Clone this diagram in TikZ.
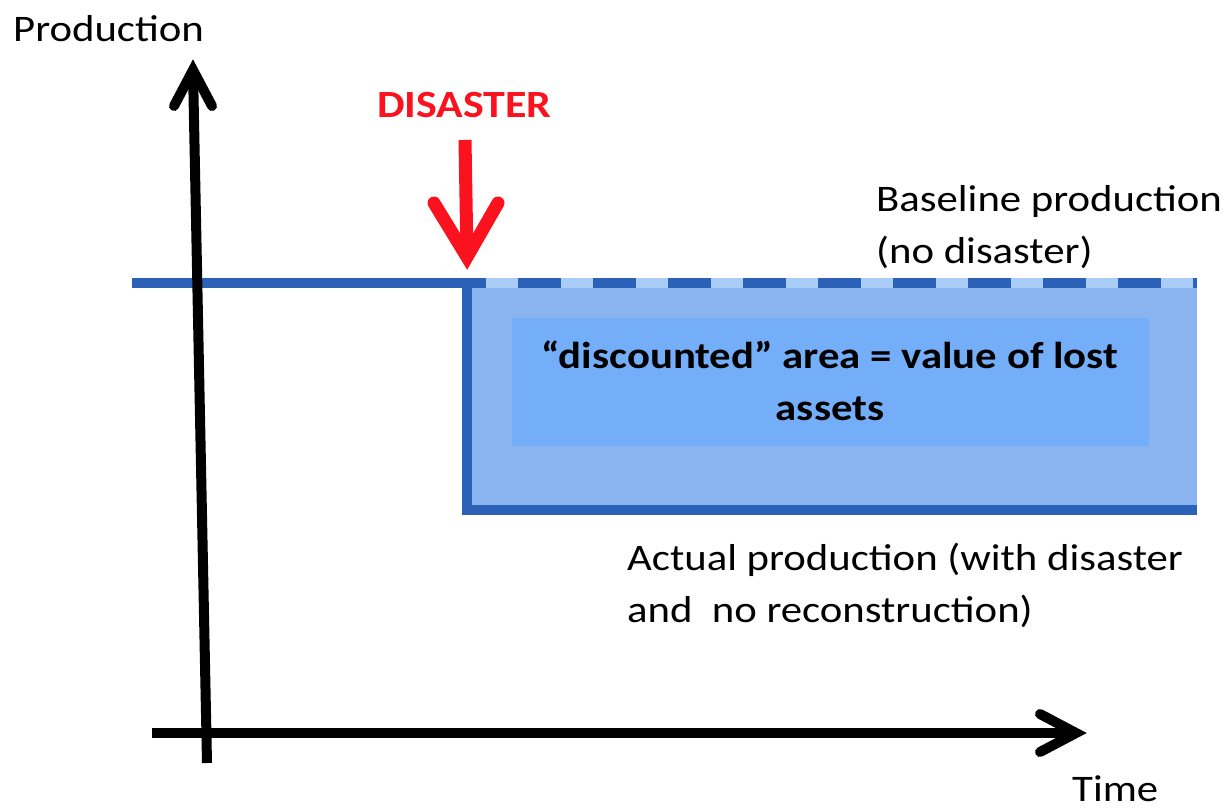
\documentclass[tikz,border=0pt]{standalone}
\usepackage{fontspec}
\setmainfont{Carlito}[FakeStretch=1.14]
\definecolor{darkblue}{RGB}{43,98,184}
\definecolor{midfill}{RGB}{138,180,239}
\definecolor{innerfill}{RGB}{117,174,248}
\definecolor{lightdash}{RGB}{169,205,247}
\definecolor{alarmred}{RGB}{250,18,30}
\tikzset{
  axisline/.style={line width=10pt, black},
  axisarm/.style={line width=10pt, black, line cap=round, line join=miter},
  blueline/.style={line width=10pt, darkblue},
  lbl/.style={inner sep=0pt, font=\fontsize{37.5}{51.5}\selectfont, align=left},
  boldlbl/.style={inner sep=0pt, font=\fontsize{37.5}{52}\selectfont\bfseries, align=center},
}
\begin{document}
\begin{tikzpicture}[x=1pt,y=-1pt]
\useasboundingbox (0,0) rectangle (1226,808);
% loss area
\fill[midfill] (467,283) rectangle (1197,510);
\fill[innerfill] (512,318) rectangle (1149,446);
\node[boldlbl, anchor=base] (area) at (830,420) {“discounted” area = value of lost\\assets};
\draw[blueline] (467,283) -- (467,510) -- (1197,510);
% baseline production
\coordinate (bstart) at (132,283);
\coordinate (drop) at (467,283);
\coordinate (bend) at (1197,283);
\draw[blueline] (bstart) -- (drop);
\draw[line width=10pt, lightdash] (drop) -- (bend);
\draw[blueline, dash pattern=on 43pt off 32pt, dash phase=24pt] (drop) -- (bend);
% axes
\coordinate (ybot) at (207,763);
\coordinate (ytop) at (193,70);
\coordinate (xleft) at (152,733);
\coordinate (xright) at (1076,733);
\draw[axisline] (ybot) -- (ytop);
\draw[axisarm] (174,106) -- (ytop) -- (212,106);
\draw[axisline] (xleft) -- (xright);
\draw[axisarm] (1040,714) -- (xright) -- (1040,752);
% disaster arrow
\coordinate (dtop) at (465,140);
\coordinate (dtip) at (467,257);
\draw[line width=13pt, alarmred] (dtop) -- (dtip);
\draw[line width=13pt, alarmred, line cap=round, line join=miter] (434,203) -- (dtip) -- (498,203);
% labels
\node[lbl, anchor=base west] (prod) at (13,42) {Production};
\node[lbl, anchor=base west] (time) at (1072,801) {Time};
\node[inner sep=0pt, anchor=base west, font=\fontsize{38.5}{46}\selectfont\bfseries, text=alarmred] (dis) at (377,117) {DISASTER};
\node[lbl, anchor=base west] (base) at (876,263) {Baseline production\\(no disaster)};
\node[lbl, anchor=base west] (act) at (627,622) {Actual production (with disaster\\and\ \ no reconstruction)};
\end{tikzpicture}
\end{document}
